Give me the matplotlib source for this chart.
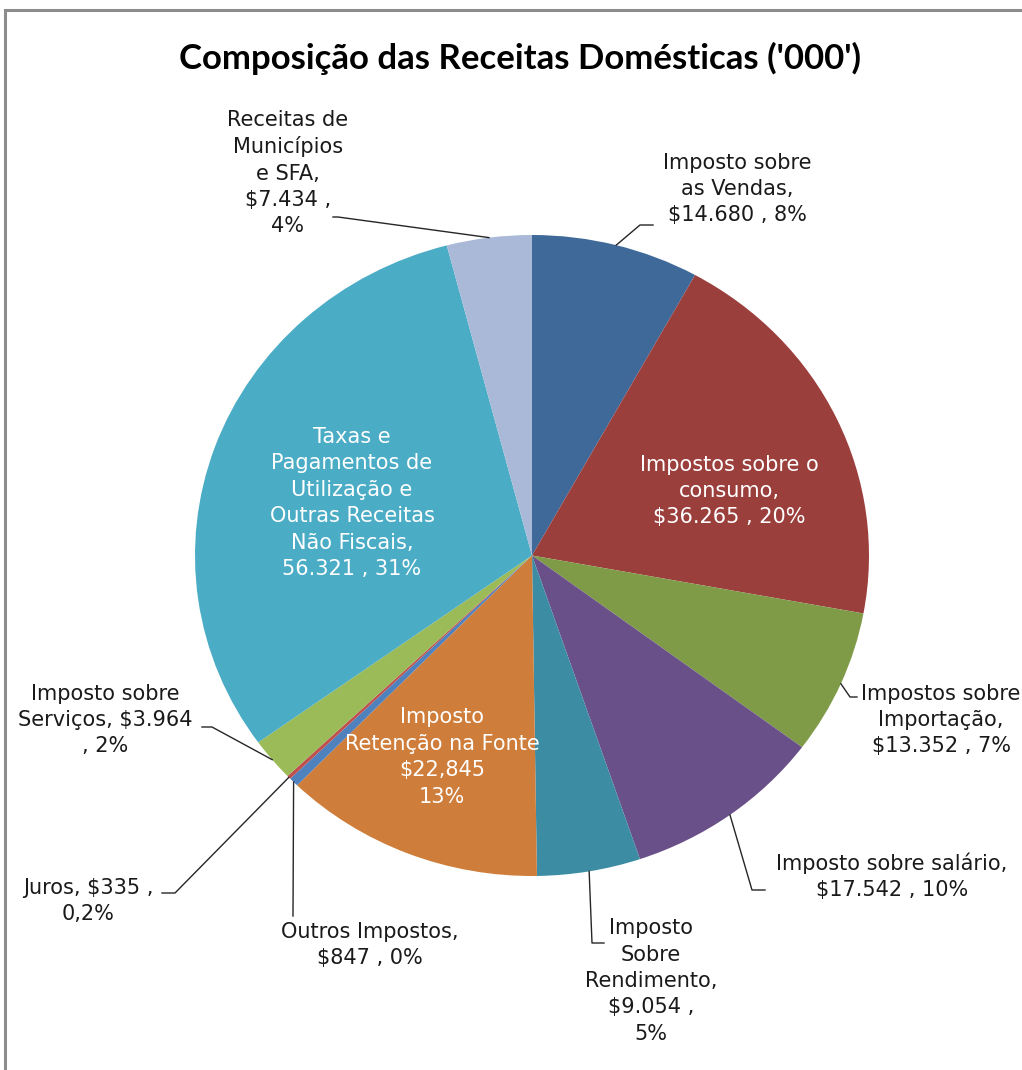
import numpy as np
import matplotlib
matplotlib.use("Agg")
import matplotlib.pyplot as plt

plt.rcParams['font.family'] = ['DejaVu Sans']

# ---------------- data ----------------
categories = [
    "Imposto sobre as Vendas", "Impostos sobre o consumo", "Impostos sobre Importação",
    "Imposto sobre salário", "Imposto Sobre Rendimento", "Imposto Retenção na Fonte",
    "Outros Impostos", "Juros", "Imposto sobre Serviços",
    "Taxas e Pagamentos de Utilização e Outras Receitas Não Fiscais",
    "Receitas de Municípios e SFA",
]
values = [14680, 36265, 13352, 17542, 9054, 22845, 847, 335, 3964, 56321, 7434]
label_texts = [
    "Imposto sobre\nas Vendas,\n$14.680 , 8%",
    "Impostos sobre o\nconsumo,\n$36.265 , 20%",
    "Impostos sobre\nImportação,\n$13.352 , 7%",
    "Imposto sobre salário,\n$17.542 , 10%",
    "Imposto\nSobre\nRendimento,\n$9.054 ,\n5%",
    "Imposto\nRetenção na Fonte\n$22,845\n13%",
    "Outros Impostos,\n$847 , 0%",
    "Juros, $335 ,\n0,2%",
    "Imposto sobre\nServiços, $3.964\n, 2%",
    "Taxas e\nPagamentos de\nUtilização e\nOutras Receitas\nNão Fiscais,\n56.321 , 31%",
    "Receitas de\nMunicípios\ne SFA,\n$7.434 ,\n4%",
]
colors = ["#3E6999", "#9B3F3D", "#7F9B48", "#6A5088", "#3C8CA3", "#CF7D3A",
          "#4F81BD", "#C0504D", "#9BBB59", "#4BACC6", "#A9B9D7"]
title = "Composição das Receitas Domésticas ('000')"

# ---------------- layout (pixels) ----------------
W, H = 1022, 1070
pie_left, pie_right, pie_top, pie_bottom = 195, 869, 235, 876
cx, cy = (pie_left + pie_right) / 2, (pie_top + pie_bottom) / 2
rx, ry = (pie_right - pie_left) / 2, (pie_bottom - pie_top) / 2

# label placement: (text center x, text center y, inside?, leader path points after anchor)
label_layout = [
    (737, 189, False, [(640, 225), (653, 225)]),
    (729, 491, True, None),
    (941, 720, False, [(850, 697), (857, 697)]),
    (892, 876, False, [(752, 890), (765, 890)]),
    (651, 981, False, [(592, 943), (604, 943)]),
    (442, 757, True, None),
    (370, 945, False, [(293, 916)]),
    (88, 901, False, [(175, 893), (162, 893)]),
    (105, 720, False, [(212, 727), (202, 727)]),
    (352, 503, True, None),
    (288, 173, False, [(338, 217), (333, 217)]),
]

fig = plt.figure(figsize=(W / 100, H / 100), dpi=100)
fig.patch.set_facecolor("white")

# pie axes (stretched slightly horizontally like the original)
pax = fig.add_axes([pie_left / W, 1 - pie_bottom / H, (pie_right - pie_left) / W,
                    (pie_bottom - pie_top) / H])
wedges, _ = pax.pie(values, colors=colors, startangle=90, counterclock=False,
                    radius=1, wedgeprops=dict(linewidth=0))
pax.set_xlim(-1, 1)
pax.set_ylim(-1, 1)
pax.set_aspect("auto")
pax.axis("off")

# overlay axes in pixel coordinates
ox = fig.add_axes([0, 0, 1, 1], facecolor="none")
ox.set_xlim(0, W)
ox.set_ylim(H, 0)
ox.axis("off")

# border (chart area outline, cropped at right/bottom)
ox.plot([5, 5, W + 5], [H + 5, 10, 10], color="#8C8C8C", lw=2.2, solid_joinstyle="miter")

ox.text(520, 58, title, ha="center", va="center", fontsize=25, fontweight="bold",
        family=["Lato", "DejaVu Sans"], color="black")

vals = np.array(values, dtype=float)
cum = np.cumsum(vals) - vals / 2
frac = cum / vals.sum()
FS = 15
LS = 1.4
for i, (tx, ty, inside, path) in enumerate(label_layout):
    ang = 2 * np.pi * frac[i]
    axp = cx + rx * np.sin(ang)
    ayp = cy - ry * np.cos(ang)
    if inside:
        ox.text(tx, ty, label_texts[i], ha="center", va="center", fontsize=FS,
                color="white", linespacing=LS)
    else:
        xs = [axp] + [p[0] for p in path]
        ys = [ayp] + [p[1] for p in path]
        ox.plot(xs, ys, color="#262626", lw=1.0)
        ox.text(tx, ty, label_texts[i], ha="center", va="center", fontsize=FS,
                color="#1a1a1a", linespacing=LS)

fig.savefig("out.png", dpi=100, facecolor="white")
